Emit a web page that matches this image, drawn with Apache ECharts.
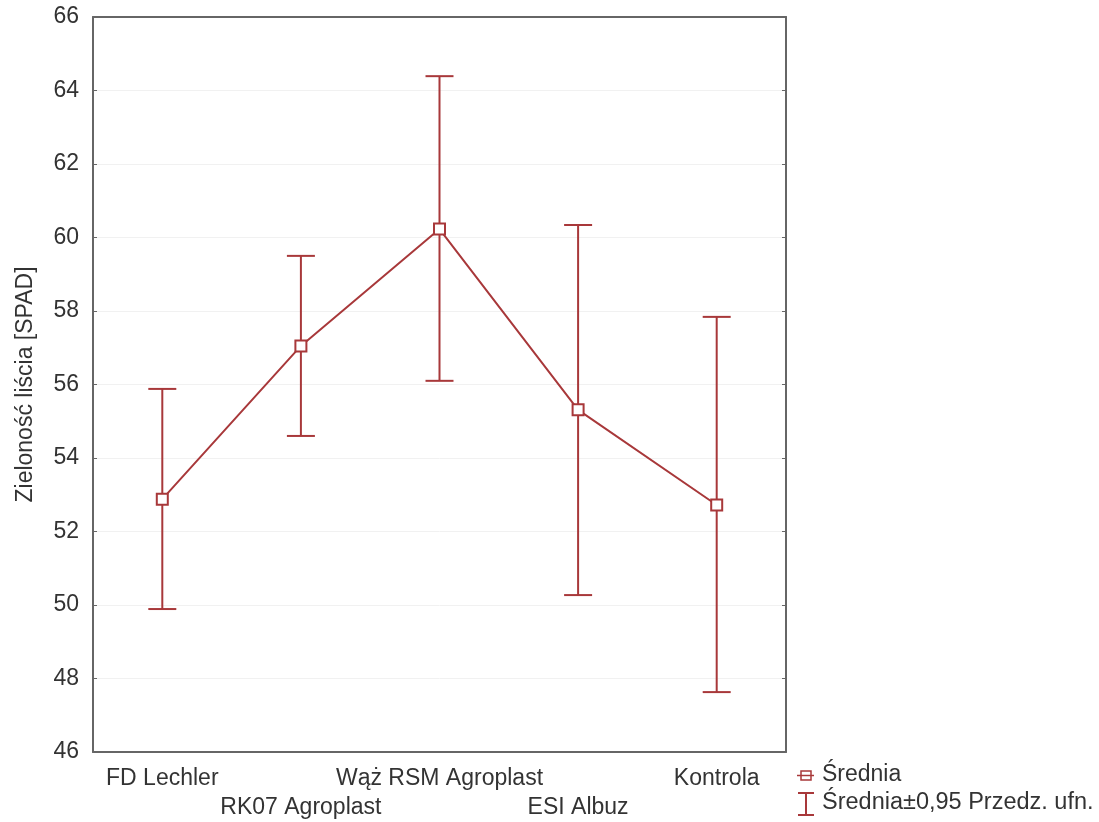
<!DOCTYPE html>
<html><head><meta charset="utf-8">
<script src="https://cdn.jsdelivr.net/npm/echarts@6/dist/echarts.min.js"></script>
<style>html,body{margin:0;padding:0;background:#fff}#c{width:1099px;height:822px}</style>
</head><body><div id="c"></div>
<script>
const categories = ['FD Lechler', 'RK07 Agroplast', 'Wąż RSM Agroplast', 'ESI Albuz', 'Kontrola'];
const means = [52.88, 57.05, 60.23, 55.31, 52.72];
const upper = [55.88, 59.50, 64.39, 60.34, 57.84];
const lower = [49.89, 54.60, 56.10, 50.27, 47.63];
const yTicks = [46, 48, 50, 52, 54, 56, 58, 60, 62, 64, 66];
const yName = 'Zieloność liścia [SPAD]';
const legendMean = 'Średnia';
const legendCI = 'Średnia±0,95 Przedz. ufn.';

const RED = '#a8383a';
const AX = '#666';
const TXT = '#333';
const FONT = 'Liberation Sans, Arial, sans-serif';
const FS = 23;

const chart = echarts.init(document.getElementById('c'));
const errData = categories.map((c, i) => [i, lower[i], upper[i]]);

chart.setOption({
  animation: false,
  grid: { left: 93, right: 313, top: 17, bottom: 70 },
  xAxis: [{
    type: 'category', data: categories, position: 'bottom',
    axisLine: { lineStyle: { color: AX, width: 2 } },
    axisTick: { inside: true, alignWithLabel: true, length: 4, lineStyle: { color: AX } },
    axisLabel: {
      interval: 0, hideOverlap: false,
      color: TXT, fontSize: FS, fontFamily: FONT, margin: 12, lineHeight: 29,
      formatter: (v, i) => (i % 2 === 1 ? '\n' + v : v)
    },
    splitLine: { show: false }
  }, {
    type: 'category', data: categories, position: 'top',
    axisLine: { lineStyle: { color: AX, width: 2 } },
    axisTick: { inside: true, alignWithLabel: true, length: 4, lineStyle: { color: AX } },
    axisLabel: { show: false }
  }],
  yAxis: [{
    type: 'value', min: yTicks[0], max: yTicks[yTicks.length - 1], interval: 2,
    name: yName, nameLocation: 'middle', nameGap: 56, nameRotate: 90,
    nameTextStyle: { color: TXT, fontSize: FS, fontFamily: FONT },
    axisLine: { show: true, lineStyle: { color: AX, width: 2 } },
    axisTick: { show: true, inside: true, length: 4, lineStyle: { color: AX } },
    axisLabel: { color: TXT, fontSize: FS, fontFamily: FONT, margin: 14 },
    splitLine: { show: true, lineStyle: { color: '#f1f1f1', width: 1 } }
  }, {
    type: 'value', min: yTicks[0], max: yTicks[yTicks.length - 1], interval: 2, position: 'right',
    axisLine: { show: true, lineStyle: { color: AX, width: 2 } },
    axisTick: { show: true, inside: true, length: 4, lineStyle: { color: AX } },
    axisLabel: { show: false },
    splitLine: { show: false }
  }],
  series: [{
    type: 'custom',
    data: errData,
    z: 2,
    renderItem: function (params, api) {
      const x = api.value(0);
      const lo = api.coord([x, api.value(1)]);
      const hi = api.coord([x, api.value(2)]);
      const hw = 14;
      const st = { stroke: RED, lineWidth: 2 };
      return {
        type: 'group',
        children: [
          { type: 'line', shape: { x1: lo[0], y1: lo[1], x2: hi[0], y2: hi[1] }, style: st },
          { type: 'line', shape: { x1: lo[0] - hw, y1: lo[1], x2: lo[0] + hw, y2: lo[1] }, style: st },
          { type: 'line', shape: { x1: hi[0] - hw, y1: hi[1], x2: hi[0] + hw, y2: hi[1] }, style: st }
        ]
      };
    }
  }, {
    type: 'line',
    data: means,
    z: 3,
    symbol: 'rect', symbolSize: 11,
    lineStyle: { color: RED, width: 2 },
    itemStyle: { color: '#fff', borderColor: RED, borderWidth: 2 }
  }],
  graphic: [
    { type: 'rect', shape: { x: 801, y: 771, width: 10, height: 9 }, style: { fill: '#fff', stroke: RED, lineWidth: 1.5 } },
    { type: 'line', shape: { x1: 797, y1: 775.5, x2: 814, y2: 775.5 }, style: { stroke: RED, lineWidth: 1.5 } },
    { type: 'text', left: 822, top: 763, style: { text: legendMean, fill: TXT, fontSize: FS, fontFamily: FONT } },
    { type: 'line', shape: { x1: 806, y1: 793, x2: 806, y2: 815 }, style: { stroke: RED, lineWidth: 2 } },
    { type: 'line', shape: { x1: 798, y1: 793, x2: 814, y2: 793 }, style: { stroke: RED, lineWidth: 2 } },
    { type: 'line', shape: { x1: 798, y1: 815, x2: 814, y2: 815 }, style: { stroke: RED, lineWidth: 2 } },
    { type: 'text', left: 822, top: 791, style: { text: legendCI, fill: TXT, fontSize: 23.5, fontFamily: FONT } }
  ]
});
</script></body></html>
